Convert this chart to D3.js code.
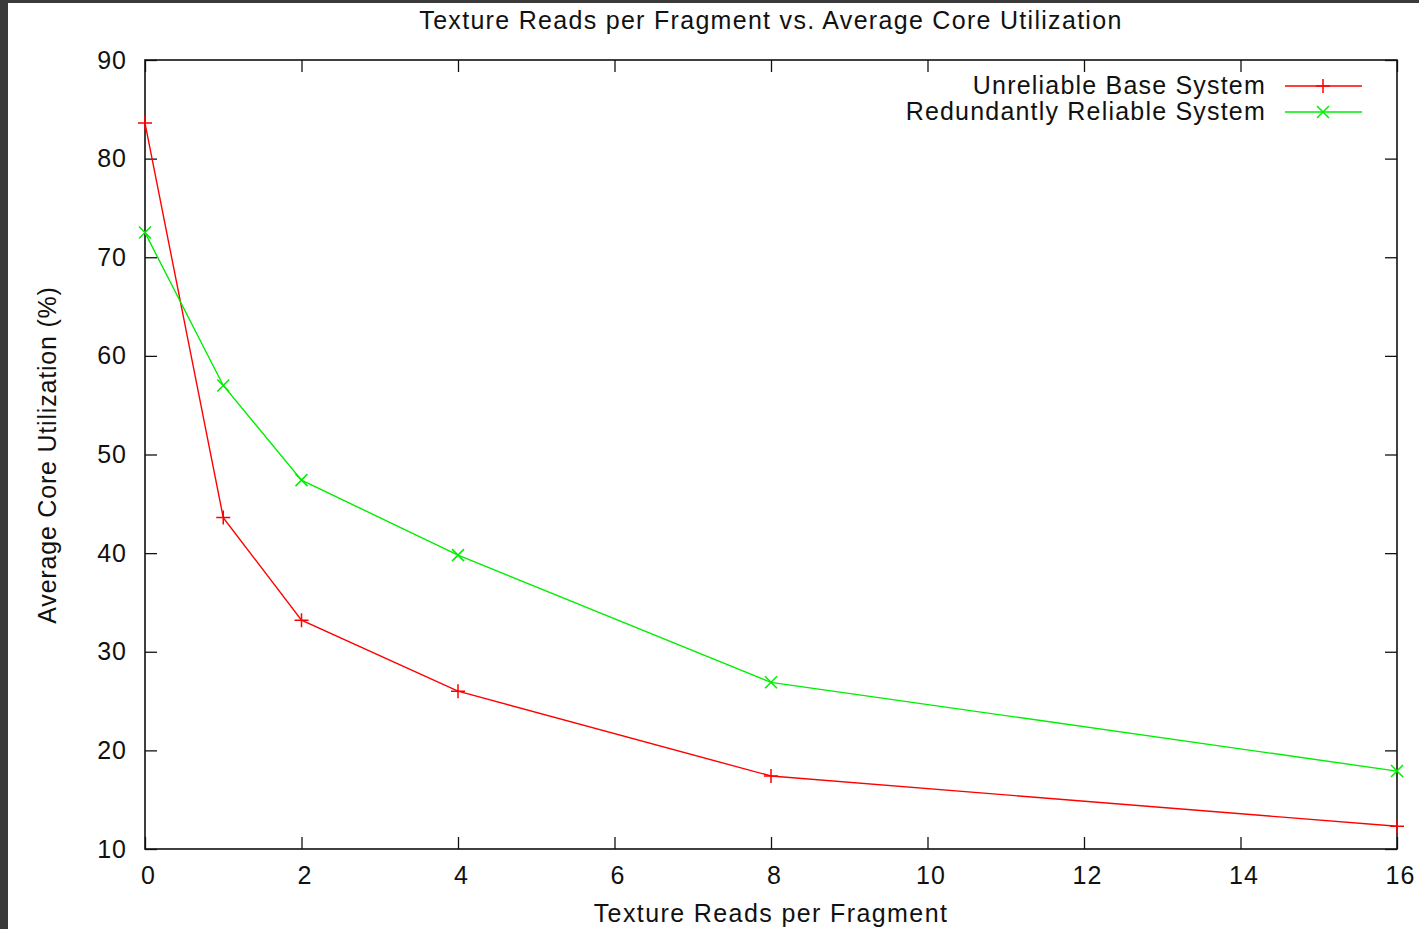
<!DOCTYPE html>
<html>
<head>
<meta charset="utf-8">
<script src="https://cdn.jsdelivr.net/npm/d3@7"></script>
<style>
  html, body { margin: 0; padding: 0; background: #3a3a3a; }
  text { font-family: "Liberation Sans", Arial, sans-serif; fill: #111; }
</style>
</head>
<body>
<div id="viz"></div>
<script>
const readsPerFragment = [0, 1, 2, 4, 8, 16];
const unreliableBase = [83.6, 43.6, 33.2, 26.0, 17.4, 12.3];
const redundantReliable = [72.5, 57.0, 47.4, 39.8, 26.9, 17.9];
const xTicks = [0, 2, 4, 6, 8, 10, 12, 14, 16];
const yTicks = [10, 20, 30, 40, 50, 60, 70, 80, 90];

const W = 1419, H = 929;
const margin = {top: 60, right: 22, bottom: 80, left: 145};
const width = 1397 - margin.left;
const height = 849 - margin.top;

const svg = d3.select('#viz')
    .append('svg')
    .attr('width', W)
    .attr('height', H)
    .style('display', 'block');

svg.append('rect').attr('width', W).attr('height', H).attr('fill', '#3a3a3a');
svg.append('rect').attr('x', 8).attr('y', 3).attr('width', W - 8).attr('height', H - 3).attr('fill', '#fff');

const g = svg.append('g').attr('transform', `translate(${margin.left},${margin.top})`);

const x = d3.scaleLinear().domain([0, 16]).range([0, width]);
const y = d3.scaleLinear().domain([10, 90]).range([height, 0]);

const tickLen = 12;
const fs = 25;

// mirrored inward ticks on all four sides
g.append('g').attr('transform', `translate(0,${height})`)
    .call(d3.axisBottom(x).tickValues(xTicks).tickSize(-tickLen).tickPadding(tickLen + 5).tickFormat(d3.format('d')))
    .call(a => a.select('.domain').remove())
    .call(a => a.selectAll('text').style('font-size', fs + 'px').style('letter-spacing', '1px').attr('dx', 3).attr('fill', '#111'));
g.append('g')
    .call(d3.axisTop(x).tickValues(xTicks).tickSize(-tickLen).tickFormat(''))
    .call(a => a.select('.domain').remove());
g.append('g')
    .call(d3.axisLeft(y).tickValues(yTicks).tickSize(-tickLen).tickPadding(tickLen + 6).tickFormat(d3.format('d')))
    .call(a => a.select('.domain').remove())
    .call(a => a.selectAll('text').style('font-size', fs + 'px').style('letter-spacing', '1px').attr('fill', '#111'));
g.append('g').attr('transform', `translate(${width},0)`)
    .call(d3.axisRight(y).tickValues(yTicks).tickSize(-tickLen).tickFormat(''))
    .call(a => a.select('.domain').remove());
g.selectAll('.tick line').attr('stroke', '#111').attr('stroke-width', 1.3);

g.append('rect')
    .attr('width', width).attr('height', height)
    .attr('fill', 'none').attr('stroke', '#111').attr('stroke-width', 1.6);

const series = [
    {name: 'Unreliable Base System', values: unreliableBase, color: '#ff0000', marker: 'plus'},
    {name: 'Redundantly Reliable System', values: redundantReliable, color: '#00ee00', marker: 'cross'}
];

const line = d3.line().x(d => x(d[0])).y(d => y(d[1]));

function drawMarker(sel, type, color) {
    const p = type === 'plus' ? 'M-7,0H7M0,-7V7' : 'M-6,-6L6,6M-6,6L6,-6';
    sel.append('path').attr('d', p).attr('stroke', color).attr('stroke-width', 1.5).attr('fill', 'none');
}

series.forEach(s => {
    const pts = readsPerFragment.map((r, i) => [r, s.values[i]]);
    g.append('path')
        .datum(pts)
        .attr('d', line)
        .attr('fill', 'none')
        .attr('stroke', s.color)
        .attr('stroke-width', 1.4);
    g.selectAll(null)
        .data(pts)
        .join('g')
        .attr('transform', d => `translate(${x(d[0])},${y(d[1])})`)
        .each(function() { drawMarker(d3.select(this), s.marker, s.color); });
});

// legend
const legend = g.append('g').attr('transform', `translate(${width - 35},26)`);
series.forEach((s, i) => {
    const row = legend.append('g').attr('transform', `translate(0,${i * 26})`);
    row.append('text')
        .attr('x', -96).attr('y', 8)
        .attr('text-anchor', 'end')
        .style('font-size', '25px')
        .style('letter-spacing', '1.2px')
        .text(s.name);
    row.append('line')
        .attr('x1', -77).attr('x2', 0)
        .attr('stroke', s.color).attr('stroke-width', 1.4);
    const m = row.append('g').attr('transform', 'translate(-39,0)');
    drawMarker(m, s.marker, s.color);
});

svg.append('text')
    .attr('x', 771).attr('y', 29)
    .attr('text-anchor', 'middle')
    .style('font-size', '25px')
    .style('letter-spacing', '1.3px')
    .text('Texture Reads per Fragment vs. Average Core Utilization');

svg.append('text')
    .attr('x', 771).attr('y', 922)
    .attr('text-anchor', 'middle')
    .style('font-size', '25px')
    .style('letter-spacing', '1.4px')
    .text('Texture Reads per Fragment');

svg.append('text')
    .attr('transform', 'translate(56,455) rotate(-90)')
    .attr('text-anchor', 'middle')
    .style('font-size', '25px')
    .style('letter-spacing', '0.8px')
    .text('Average Core Utilization (%)');
</script>
</body>
</html>
